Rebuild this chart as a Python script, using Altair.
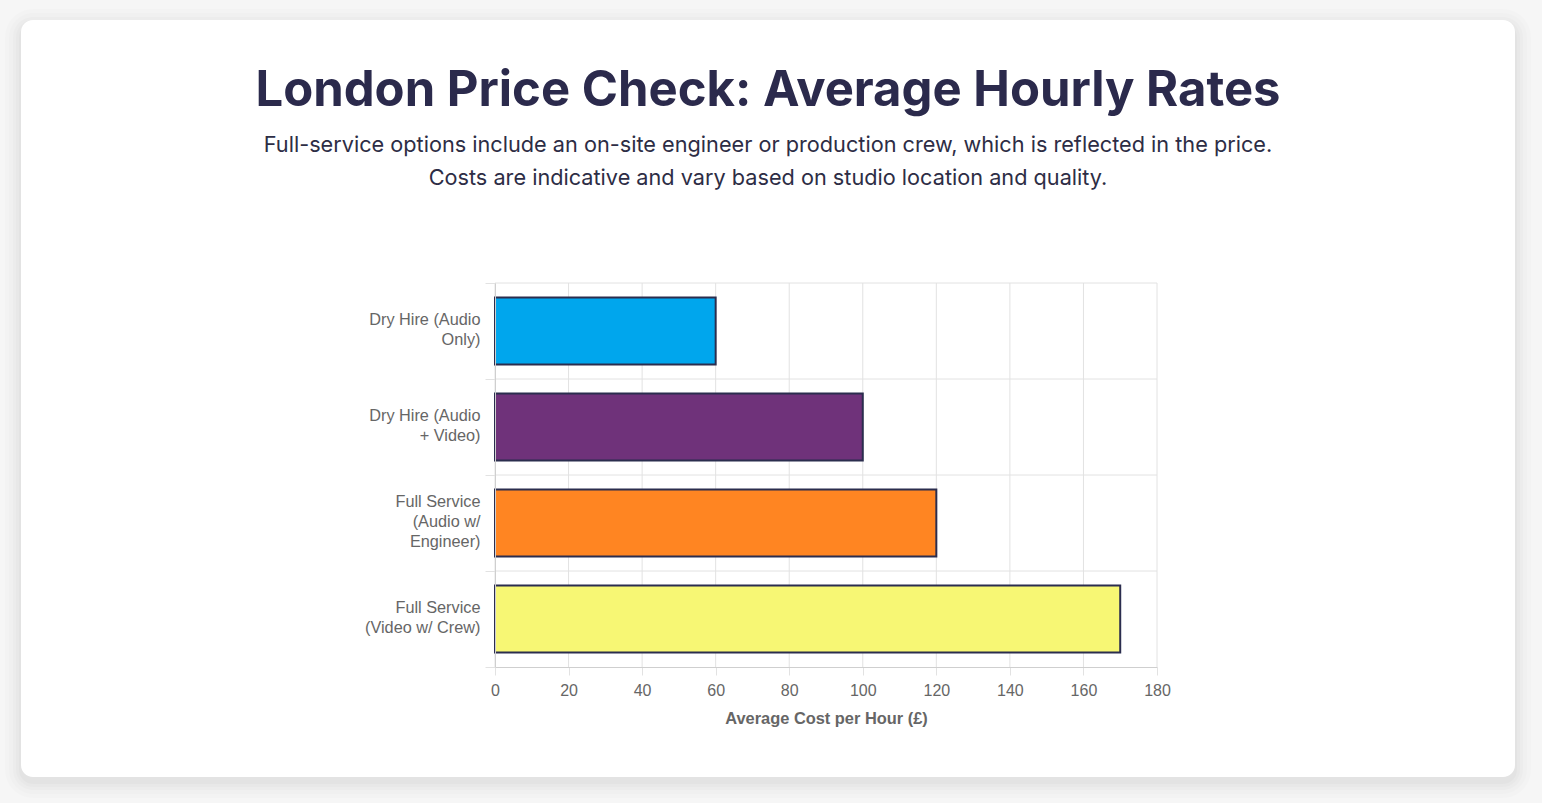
import altair as alt
import pandas as pd

categories = [
    "Dry Hire (Audio Only)",
    "Dry Hire (Audio + Video)",
    "Full Service (Audio w/ Engineer)",
    "Full Service (Video w/ Crew)",
]
label_lines = [
    ["Dry Hire (Audio", "Only)"],
    ["Dry Hire (Audio", "+ Video)"],
    ["Full Service", "(Audio w/", "Engineer)"],
    ["Full Service", "(Video w/ Crew)"],
]
costs = [60, 100, 120, 170]
bar_colors = ["#00a6ed", "#6f327a", "#ff8522", "#f7f774"]
x_ticks = [0, 20, 40, 60, 80, 100, 120, 140, 160, 180]

title_text = "London Price Check: Average Hourly Rates"
subtitle_lines = [
    "Full-service options include an on-site engineer or production crew, which is reflected in the price.",
    "Costs are indicative and vary based on studio location and quality.",
]
x_title = "Average Cost per Hour (£)"

bars_df = pd.DataFrame({"category": categories, "cost": costs})
ticks_df = pd.DataFrame({"cost": x_ticks})
cats_df = pd.DataFrame({"category": categories})

W, H = 662, 384
PAD = {"left": 495, "top": 283, "right": 385, "bottom": 136}

# card geometry relative to the plot area
CX1, CX2, CY1, CY2 = -474, 1020, -263, 494

LINE_H = 20
label_expr = ""
for c, lines in zip(categories, label_lines):
    arr = "[" + ",".join("'" + l.replace("'", "\\'") + "'" for l in lines) + "]"
    label_expr += f"datum.label == '{c}' ? {arr} : "
label_expr += "datum.label"

three_line = [c for c, l in zip(categories, label_lines) if len(l) == 3]
test3 = " || ".join(f"datum.value == '{c}'" for c in three_line)
label_offset = {"condition": {"test": test3, "value": -2 - LINE_H}, "value": -2 - LINE_H / 2}

GRID = "#e2e2e2"
DOMAIN = "#cfcfcf"
TXT = "#666666"

one = alt.Data(values=[{"k": 1}])

shadow_layers = []
for e, o in [(16, 0.010), (12, 0.012), (8, 0.014), (5, 0.016), (2, 0.02)]:
    shadow_layers.append(
        alt.Chart(one).mark_rect(cornerRadius=12 + e, fill="#000000", opacity=o).encode(
            x=alt.value(CX1 - e), x2=alt.value(CX2 + e),
            y=alt.value(CY1 - e + 5), y2=alt.value(CY2 + e + 5),
        )
    )

card = alt.Chart(one).mark_rect(cornerRadius=12, fill="#ffffff").encode(
    x=alt.value(CX1), x2=alt.value(CX2), y=alt.value(CY1), y2=alt.value(CY2)
)

y_scale = alt.Scale(domain=categories, paddingInner=0, paddingOuter=0)
x_scale = alt.Scale(domain=[0, 180], nice=False, zero=True)

x_axis = alt.Axis(
    values=x_ticks, grid=False, title=x_title, domainColor=DOMAIN,
    tickColor=GRID, tickSize=8, labelPadding=7, labelFlush=False,
    labelFont="Liberation Sans", labelFontSize=16, labelColor=TXT,
    titleFont="Liberation Sans", titleFontSize=16.4, titleFontWeight="bold",
    titleColor=TXT, titlePadding=12, zindex=1,
)
y_axis = alt.Axis(
    title=None, grid=False, tickBand="extent", tickSize=10, tickColor=GRID,
    domainColor=DOMAIN, labelPadding=5, labelFont="Liberation Sans",
    labelFontSize=16.3, labelColor=TXT, labelLineHeight=LINE_H,
    labelBaseline="middle", labelExpr=label_expr, labelLimit=300,
    labelOffset=label_offset, zindex=1,
)

vgrid = alt.Chart(ticks_df).mark_rule(color=GRID, strokeWidth=1).encode(
    x=alt.X("cost:Q", scale=x_scale, axis=x_axis)
)
hgrid = alt.Chart(cats_df).mark_rule(color=GRID, strokeWidth=1).encode(
    y=alt.Y("category:N", scale=y_scale, bandPosition=0, axis=y_axis, sort=categories)
)

bars = alt.Chart(bars_df).mark_bar(
    height={"band": 0.7}, stroke="#2b2d4e", strokeWidth=2
).encode(
    x=alt.X("cost:Q", scale=x_scale, axis=x_axis),
    y=alt.Y("category:N", scale=y_scale, sort=categories, axis=y_axis),
    color=alt.Color("category:N", scale=alt.Scale(domain=categories, range=bar_colors), legend=None),
)

chart = alt.layer(*shadow_layers, card, vgrid, hgrid, bars).properties(
    width=W, height=H,
    padding=PAD,
    autosize=alt.AutoSizeParams(type="none"),
    background="#f6f6f6",
    title=alt.TitleParams(
        text=title_text, subtitle=subtitle_lines,
        font="Inter", fontSize=49, fontWeight=700, color="#2b2a4c",
        subtitleFont="Inter", subtitleFontSize=21.7, subtitleColor="#2d2d45",
        subtitleLineHeight=33, subtitlePadding=19,
        anchor="middle", frame="bounds", offset=-181,
    ),
).configure_view(stroke=None)

chart.save("out.html", embed_options={"renderer": "svg", "actions": False})
